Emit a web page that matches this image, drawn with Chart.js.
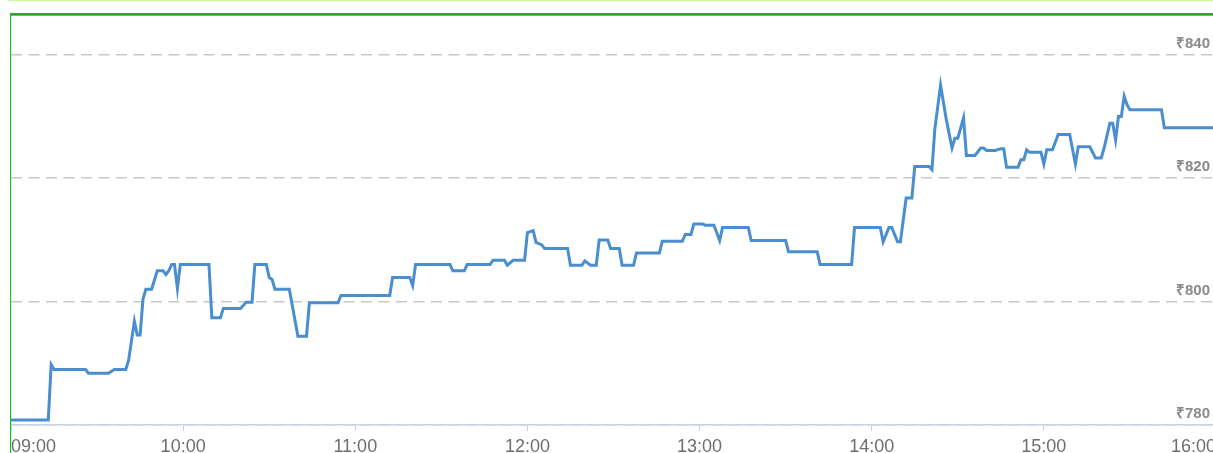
<!DOCTYPE html>
<html>
<head>
<meta charset="utf-8">
<script src="https://cdn.jsdelivr.net/npm/chart.js@4.4.1/dist/chart.umd.min.js"></script>
<style>
    html, body { margin: 0; padding: 0; background: #fff; }
    body { width: 1213px; height: 453px; overflow: hidden; position: relative; }
    .top-line { position: absolute; top: 0; left: 8px; right: 0; height: 1px; background: #c6f59a; }
    .frame { position: absolute; top: 13px; left: 10px; width: 1240px; height: 460px;
             border-top: 2px solid #2ea62e; border-left: 1px solid #00cc00; }
    .frame-shade { position: absolute; top: 15px; left: 11px; right: 0; height: 1px; background: #9a9a9a; }
    .chart-box { position: absolute; left: 11px; top: 16px; width: 1205px; height: 445px; }
</style>
</head>
<body>
<div class="top-line"></div>
<div class="frame"></div>
<div class="frame-shade"></div>
<div class="chart-box"><canvas id="priceChart"></canvas></div>
<script>
// intraday trades, time of day and price in rupees
const times = [
    '09:00', '09:13', '09:14', '09:15', '09:26', '09:27', '09:34', '09:36', '09:40', '09:41',
    '09:43', '09:44', '09:45', '09:46', '09:47', '09:49', '09:51', '09:53', '09:54', '09:55',
    '09:56', '09:57', '09:58', '09:59', '10:09', '10:10', '10:13', '10:14', '10:20', '10:22',
    '10:24', '10:25', '10:29', '10:30', '10:31', '10:32', '10:37', '10:40', '10:43', '10:44',
    '10:54', '10:55', '11:12', '11:13', '11:19', '11:20', '11:21', '11:33', '11:34', '11:38',
    '11:39', '11:47', '11:48', '11:52', '11:53', '11:55', '11:59', '12:00', '12:02', '12:03',
    '12:05', '12:06', '12:14', '12:15', '12:19', '12:20', '12:22', '12:24', '12:25', '12:28',
    '12:29', '12:32', '12:33', '12:37', '12:38', '12:46', '12:47', '12:54', '12:55', '12:57',
    '12:58', '13:01', '13:02', '13:05', '13:07', '13:08', '13:17', '13:18', '13:30', '13:31',
    '13:41', '13:42', '13:53', '13:54', '14:03', '14:04', '14:06', '14:07', '14:09', '14:10',
    '14:12', '14:14', '14:15', '14:20', '14:21', '14:22', '14:23', '14:24', '14:26', '14:28',
    '14:29', '14:30', '14:32', '14:33', '14:36', '14:38', '14:39', '14:40', '14:43', '14:45',
    '14:46', '14:47', '14:51', '14:52', '14:53', '14:54', '14:55', '14:59', '15:00', '15:01',
    '15:03', '15:05', '15:09', '15:11', '15:12', '15:16', '15:18', '15:20', '15:21', '15:23',
    '15:24', '15:25', '15:26', '15:27', '15:28', '15:29', '15:30', '15:41', '15:42', '16:00'
];
const prices = [
    780.8, 780.8, 789.8, 789.0, 789.0, 788.4, 788.4, 789.0, 789.0, 790.5,
    796.8, 794.6, 794.6, 800.4, 802.0, 802.0, 805.0, 805.0, 804.4, 805.0,
    806.0, 806.0, 802.1, 806.0, 806.0, 797.4, 797.4, 798.9, 798.9, 799.9,
    799.9, 806.0, 806.0, 803.9, 803.6, 802.0, 802.0, 794.4, 794.4, 799.8,
    799.8, 801.0, 801.0, 803.9, 803.9, 802.6, 806.0, 806.0, 805.0, 805.0,
    806.0, 806.0, 806.7, 806.7, 805.9, 806.7, 806.7, 811.2, 811.5, 809.6,
    809.2, 808.6, 808.6, 805.9, 805.9, 806.6, 805.9, 805.9, 810.0, 810.0,
    808.6, 808.6, 805.9, 805.9, 807.9, 807.9, 809.8, 809.8, 810.9, 810.9,
    812.6, 812.6, 812.4, 812.4, 809.9, 812.0, 812.0, 809.9, 809.9, 808.1,
    808.1, 806.0, 806.0, 812.0, 812.0, 809.7, 812.0, 812.0, 809.7, 809.7,
    816.8, 816.8, 821.9, 821.9, 821.4, 828.0, 831.5, 835.1, 829.5, 824.9,
    826.5, 826.5, 829.8, 823.7, 823.7, 824.9, 824.9, 824.5, 824.5, 824.8,
    824.8, 821.8, 821.8, 823.0, 823.0, 824.6, 824.2, 824.2, 822.3, 824.6,
    824.6, 827.1, 827.1, 822.3, 825.1, 825.1, 823.3, 823.3, 824.9, 828.9,
    828.9, 826.2, 830.0, 830.0, 833.3, 831.9, 831.1, 831.1, 828.2, 828.2
];
const hourLabels = ['09:00', '10:00', '11:00', '12:00', '13:00', '14:00', '15:00', '16:00'];
const priceTicks = [780, 800, 820, 840];

const toMinutes = t => {
    const [h, m] = t.split(':').map(Number);
    return (h - 9) * 60 + m;
};
const points = times.map((t, i) => ({ x: toMinutes(t), y: prices[i] }));

const ctx = document.getElementById('priceChart').getContext('2d');
const priceChart = new Chart(ctx, {
    type: 'line',
    data: {
        datasets: [{
            data: points,
            borderColor: '#4a8ecf',
            borderWidth: 3,
            pointRadius: 0,
            tension: 0,
            fill: false
        }]
    },
    options: {
        responsive: true,
        maintainAspectRatio: false,
        animation: false,
        layout: { padding: 0 },
        plugins: {
            legend: { display: false },
            tooltip: { enabled: false }
        },
        scales: {
            x: {
                type: 'linear',
                min: 0,
                max: 420,
                afterFit: s => { s.paddingLeft = 0; s.paddingRight = 0; s.height = 36; },
                afterBuildTicks: s => { s.ticks = hourLabels.map((l, i) => ({ value: i * 60 })); },
                ticks: {
                    callback: (v) => hourLabels[Math.round(v / 60)],
                    align: 'inner',
                    autoSkip: false,
                    maxRotation: 0,
                    padding: 5,
                    color: '#6e6e6e',
                    font: { family: 'Liberation Sans', size: 18 }
                },
                grid: {
                    drawOnChartArea: false,
                    drawTicks: true,
                    tickLength: 6,
                    color: '#c3d3e3'
                },
                border: { display: true, color: '#c3d3e3', width: 1.5 }
            },
            y: {
                position: 'right',
                min: 780,
                max: 846.3,
                afterFit: s => { s.width = 0; s.paddingTop = 0; s.paddingBottom = 0; },
                afterBuildTicks: s => { s.ticks = priceTicks.map(v => ({ value: v })); },
                ticks: {
                    mirror: true,
                    padding: -6,
                    labelOffset: -11,
                    color: '#8a8a8a',
                    font: { family: 'Liberation Sans', size: 15, weight: 'bold' },
                    callback: v => '\u20b9' + v
                },
                grid: {
                    drawTicks: false,
                    color: '#c8c8c8',
                    lineWidth: 1.5
                },
                border: { display: false, dash: [11, 6.5] }
            }
        }
    }
});
</script>
</body>
</html>
